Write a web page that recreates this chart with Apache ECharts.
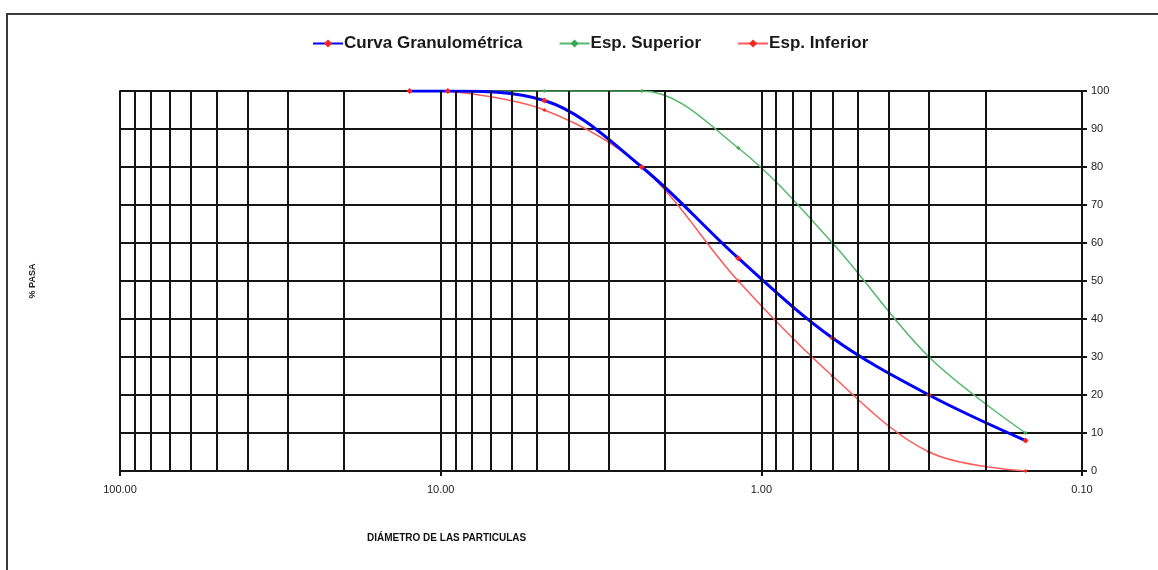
<!DOCTYPE html>
<html>
<head>
<meta charset="utf-8">
<script src="https://cdn.jsdelivr.net/npm/echarts@6/dist/echarts.min.js"></script>
<style>
  html, body { margin: 0; padding: 0; background: #fff; }
  #chart { width: 1158px; height: 570px; }
</style>
</head>
<body>
<div id="chart"></div>
<script>
// ---- Data ----
const curvaSizes = [12.5, 9.5, 4.75, 2.36, 1.18, 0.6, 0.3, 0.15];
const curvaPass  = [100, 100, 97.5, 80, 56, 35, 20, 8];

const specSizes  = [9.5, 4.75, 2.36, 1.18, 0.6, 0.3, 0.15];
const supPass    = [100, 100, 100, 85, 60, 30, 10];
const infPass    = [100, 95, 80, 50, 25, 5, 0];

// log-grid vertical line positions (mm)
const gridValues = [90, 80, 70, 60, 50, 40, 30, 20, 10,
                    9, 8, 7, 6, 5, 4, 3, 2, 1,
                    0.9, 0.8, 0.7, 0.6, 0.5, 0.4, 0.3, 0.2];

const seriesNames = ['Curva Granulométrica', 'Esp. Superior', 'Esp. Inferior'];
const xTitle = 'DIÁMETRO DE LAS PARTICULAS';
const yTitle = '% PASA';

const pair = (xs, ys) => xs.map((x, i) => [x, ys[i]]);

const FONT = '"Liberation Sans", Arial, sans-serif';
const GRID_COLOR = '#141414';
const GRID_W = 2;
const chart = echarts.init(document.getElementById('chart'), null, { renderer: 'canvas' });

chart.setOption({
  animation: false,
  backgroundColor: '#ffffff',
  title: {
    text: xTitle,
    left: 362, top: 528,
    textStyle: { fontFamily: FONT, fontSize: 10, fontWeight: 'bold', color: '#111' }
  },
  graphic: [{
    type: 'rect', silent: true, z: -10,
    shape: { x: 7, y: 14, width: 1170, height: 580 },
    style: { fill: 'none', stroke: '#3a3a3a', lineWidth: 2 }
  }],
  legend: {
    top: 30, left: 307,
    data: seriesNames,
    itemGap: 36, itemWidth: 30, itemHeight: 10,
    textStyle: { fontFamily: FONT, fontSize: 17, fontWeight: 'bold', color: '#1a1a1a', padding: [0, 0, 0, -4] }
  },
  grid: { left: 120, right: 76, top: 91, bottom: 99, containLabel: false },
  xAxis: {
    type: 'log', logBase: 10, min: 0.1, max: 100, inverse: true,
    axisLine: { show: true, lineStyle: { color: GRID_COLOR, width: GRID_W } },
    axisTick: { show: true, length: 5, lineStyle: { color: GRID_COLOR, width: GRID_W } },
    axisLabel: {
      fontFamily: FONT, fontSize: 11, color: '#222', margin: 13,
      formatter: v => Number(v).toFixed(2)
    },
    splitLine: { show: true, lineStyle: { color: GRID_COLOR, width: GRID_W } }
  },
  yAxis: [{
    type: 'value', min: 0, max: 100, interval: 10, position: 'right',
    axisLine: { show: true, lineStyle: { color: GRID_COLOR, width: GRID_W } },
    axisTick: { show: true, length: 5, lineStyle: { color: GRID_COLOR, width: GRID_W } },
    axisLabel: { fontFamily: FONT, fontSize: 11, color: '#222', margin: 9 },
    splitLine: { show: true, lineStyle: { color: GRID_COLOR, width: GRID_W } }
  }, {
    type: 'value', min: 0, max: 100, interval: 10, position: 'left',
    name: yTitle, nameLocation: 'middle', nameGap: 83, nameRotate: 90,
    nameTextStyle: { fontFamily: FONT, fontSize: 9, fontWeight: 'bold', color: '#222' },
    axisLine: { show: true, lineStyle: { color: GRID_COLOR, width: GRID_W } },
    axisTick: { show: false }, axisLabel: { show: false }, splitLine: { show: false }
  }],
  series: [
    {
      name: 'grid', type: 'line', data: [], z: 1, silent: true,
      markLine: {
        silent: true, symbol: 'none', animation: false,
        label: { show: false },
        lineStyle: { color: GRID_COLOR, width: GRID_W, type: 'solid' },
        data: gridValues.map(v => ({ xAxis: v }))
      }
    },
    {
      name: seriesNames[1], type: 'line', z: 3, smooth: 0.35,
      data: pair(specSizes, supPass),
      symbol: 'diamond', symbolSize: 4,
      lineStyle: { color: '#55b86a', width: 1.5 },
      itemStyle: { color: '#3aa552' }
    },
    {
      name: seriesNames[2], type: 'line', z: 3, smooth: 0.35,
      data: pair(specSizes, infPass),
      symbol: 'diamond', symbolSize: 4,
      lineStyle: { color: '#ff5a5a', width: 1.5 },
      itemStyle: { color: '#ff2020' }
    },
    {
      name: seriesNames[0], type: 'line', z: 4, smooth: 0.35,
      data: pair(curvaSizes, curvaPass),
      symbol: 'diamond', symbolSize: 6,
      lineStyle: { color: '#0000ff', width: 3 },
      itemStyle: { color: '#ff2020' }
    }
  ]
});
</script>
</body>
</html>
